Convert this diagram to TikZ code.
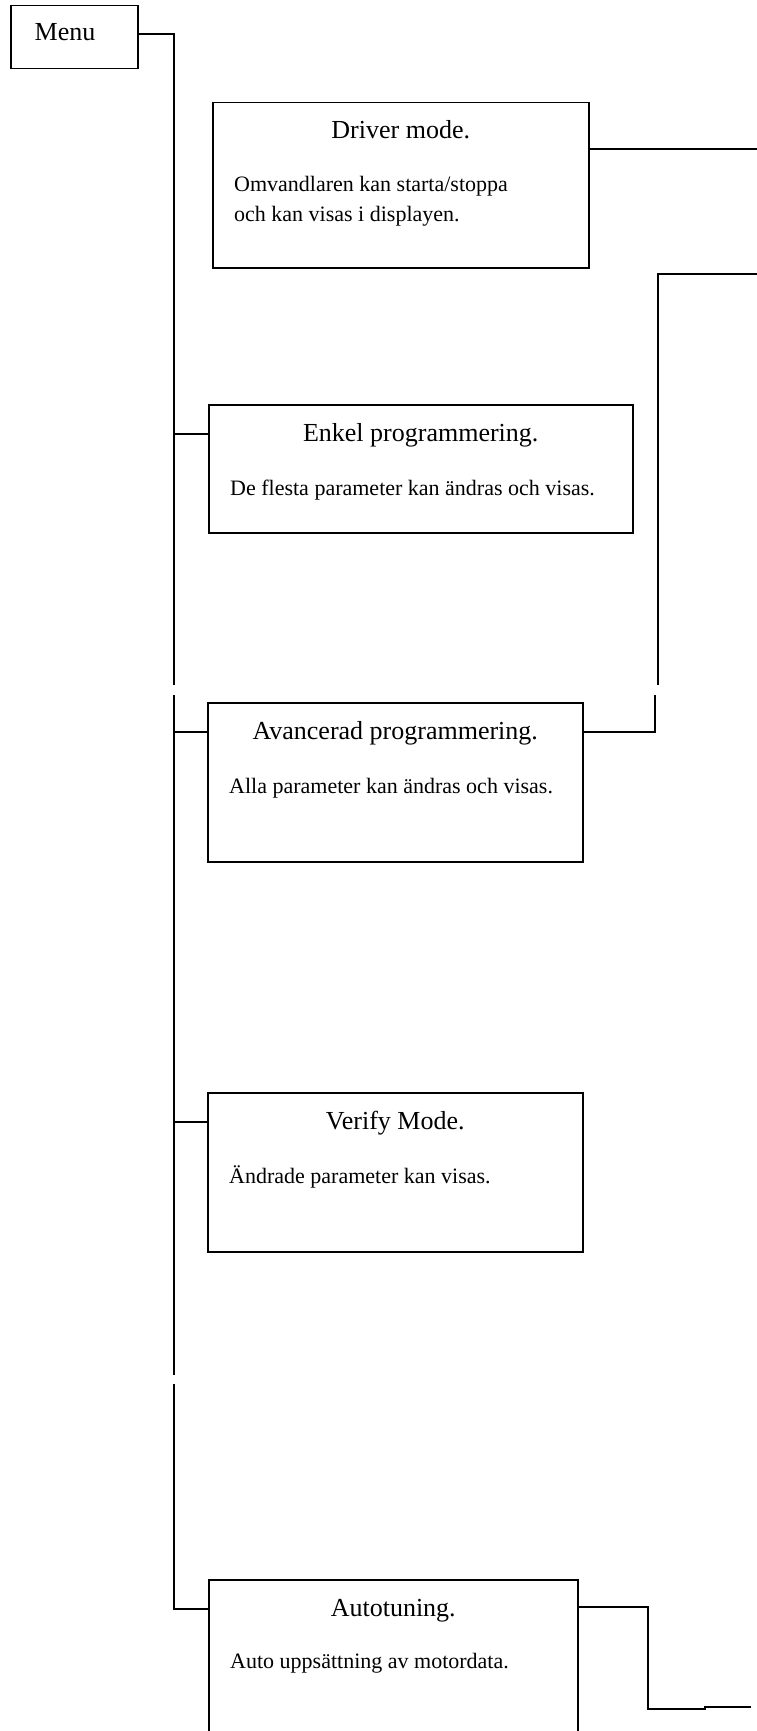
\documentclass[tikz,border=0pt]{standalone}
\usepackage{fontspec}
\setmainfont{Liberation Serif}
\usetikzlibrary{positioning,calc}

\tikzset{
  modebox/.style={draw, rectangle, line width=1.5pt, inner sep=0pt, anchor=north west},
  titletext/.style={font=\fontsize{26}{30}\selectfont, anchor=base, inner sep=0pt},
  bodytext/.style={font=\fontsize{22}{29}\selectfont, anchor=base west, align=left, inner sep=0pt},
  wire/.style={line width=1.5pt},
}

\begin{document}
\begin{tikzpicture}[x=1pt, y=-1pt]
  \useasboundingbox (0,0) rectangle (757,1731);
  \clip (0,0) rectangle (757,1731);

  % top box
  \node[modebox, minimum width=127pt, minimum height=63pt] (menu) at (10,5) {};
  \node[titletext] (menu-t) at (65,41) {Menu};

  % the five modes (\dy = baseline of the last body line)
  \foreach \n/\x/\y/\w/\h/\dy/\tit/\txt in {
      driver/212/102/376/165/119/{Driver mode.}/{Omvandlaren kan starta/stoppa\\och kan visas i displayen.},
      enkel/208/404/424/128/91/{Enkel programmering.}/{De flesta parameter kan ändras och visas.},
      avanc/207/702/375/159/91/{Avancerad programmering.}/{Alla parameter kan ändras och visas.},
      verify/207/1092/375/159/91/{Verify Mode.}/{Ändrade parameter kan visas.},
      auto/208/1579/369/170/89/{Autotuning.}/{Auto uppsättning av motordata.}} {
    \node[modebox, minimum width=\w pt, minimum height=\h pt] (\n) at (\x,\y) {};
    \node[titletext] (\n-t) at ($(\n.north)+(0,37)$) {\tit};
    \node[bodytext] (\n-b) at ($(\n.north west)+(22,\dy)$) {\txt};
  }

  % trunk on the left, with its breaks
  \coordinate (trunk) at (174,0);
  \coordinate (brkA1) at (174,685);
  \coordinate (brkA2) at (174,695);
  \coordinate (brkB1) at (174,1375);
  \coordinate (brkB2) at (174,1384);
  \draw[wire] ($(menu.east)+(0,-3)$) -| (brkA1);
  \draw[wire] (brkA2) -- (brkB1);
  \draw[wire] (brkB2) |- ($(auto.north west)+(0,30)$);
  \foreach \n in {enkel, avanc, verify}
    \draw[wire] ($(\n.north west)+(0,30)$) coordinate (p) -- (trunk |- p);

  % lines on the right
  \coordinate (edge) at (757,0);
  \coordinate (rgtA) at (757,274);
  \coordinate (rgtB) at (658,685);
  \coordinate (rgtC) at (655,695);
  \coordinate (rgtD) at (648,1709);
  \coordinate (rgtJ) at (705,1707);
  \coordinate (rgtE) at (751,1707);
  \draw[wire] ($(driver.north east)+(0,47)$) coordinate (q) -- (edge |- q);
  \draw[wire] (rgtA) -| (rgtB);
  \draw[wire] (rgtC) |- ($(avanc.north east)+(0,30)$);
  \draw[wire] ($(auto.north east)+(0,28)$) -| (rgtD) -| (rgtJ) -- (rgtE);
\end{tikzpicture}
\end{document}
